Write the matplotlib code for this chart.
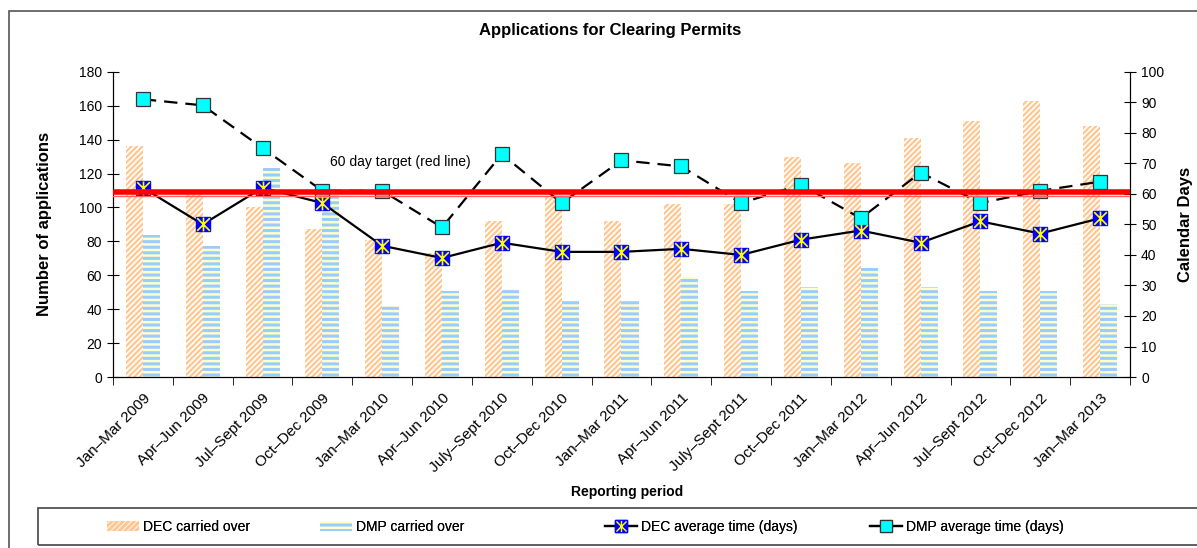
import matplotlib
matplotlib.use("Agg")
import matplotlib.pyplot as plt
import numpy as np
from matplotlib.path import Path
from matplotlib.lines import Line2D
from matplotlib.patches import Patch, Rectangle
from matplotlib.legend_handler import HandlerTuple

periods = ["Jan\u2013Mar 2009", "Apr\u2013Jun 2009", "Jul\u2013Sept 2009", "Oct\u2013Dec 2009",
           "Jan\u2013Mar 2010", "Apr\u2013Jun 2010", "July\u2013Sept 2010", "Oct\u2013Dec 2010",
           "Jan\u2013Mar 2011", "Apr\u2013Jun 2011", "July\u2013Sept 2011", "Oct\u2013Dec 2011",
           "Jan\u2013Mar 2012", "Apr\u2013Jun 2012", "Jul\u2013Sept 2012", "Oct\u2013Dec 2012",
           "Jan\u2013Mar 2013"]
dec_carried = [136, 110, 100, 87, 81, 73, 92, 107, 92, 102, 102, 130, 126, 141, 151, 163, 148]
dmp_carried = [84, 77, 123, 109, 42, 51, 52, 45, 45, 59, 51, 53, 64, 53, 51, 51, 43]
dec_days = [62, 50, 62, 57, 43, 39, 44, 41, 41, 42, 40, 45, 48, 44, 51, 47, 52]
dmp_days = [91, 89, 75, 61, 61, 49, 73, 57, 71, 69, 57, 63, 52, 67, 57, 61, 64]
target_days = 60

plt.rcParams['font.family'] = ['Liberation Sans', 'DejaVu Sans']

orange = '#FFC690'
blue = '#99CCFF'
yellow = '#FFFFCC'

# yellow asterisk drawn over the blue squares
star = Path([(-1, -1), (1, 1), (-1, 1), (1, -1), (0, -1.1), (0, 1.1)],
            [Path.MOVETO, Path.LINETO] * 3)

fig = plt.figure(figsize=(11.97, 5.48), dpi=100)
ax = fig.add_axes([0.0944, 0.312, 0.8496, 0.557])
ax2 = ax.twinx()

x = np.arange(len(periods))
w = 0.285
plt.rcParams['hatch.linewidth'] = 1.6
ax.bar(x - w / 2, dec_carried, w, facecolor='white', edgecolor=orange, hatch='//////', linewidth=0)
h1 = Patch(facecolor='white', edgecolor=orange, hatch='//////', linewidth=0)
plt.rcParams['hatch.linewidth'] = 2.2
ax.bar(x + w / 2, dmp_carried, w, facecolor=yellow, edgecolor=blue, hatch='---', linewidth=0)
h2 = Patch(facecolor=yellow, edgecolor=blue, hatch='---', linewidth=0)

ax2.plot(x, dec_days, color='black', lw=1.6, marker='s', ms=10, mfc='#0000FF', mec='#0000FF', zorder=3)
ax2.plot(x, dec_days, ls='none', marker=star, ms=10, mec='#FFFF00', mew=1.2, zorder=4)
ax2.plot(x, dmp_days, color='black', lw=1.6, ls=(0, (6, 3.6)), marker='s', ms=10,
         mfc='#00FFFF', mec='#333333', mew=0.9, zorder=3)
ax2.axhline(target_days + 0.6, color='#FF0000', lw=4, zorder=6)
ax2.axhline(target_days - 0.6, color='#FF6060', lw=1, zorder=6)
ax2.text(3.13, 70.5, "60 day target (red line)", fontsize=10, va='center', ha='left')

ax.set_xlim(-0.5, len(periods) - 0.5)
ax.set_ylim(0, 180)
ax2.set_ylim(0, 100)
ax.set_yticks(np.arange(0, 181, 20))
ax2.set_yticks(np.arange(0, 101, 10))
ax.set_xticks(x)
ax.set_xticklabels(periods, rotation=45, ha='right', rotation_mode='anchor', fontsize=11)
ax.set_xticks(np.arange(-0.5, len(periods), 1), minor=True)
ax.tick_params(axis='x', which='major', length=0, pad=10)
ax.tick_params(axis='x', which='minor', length=6, direction='out')
ax.tick_params(axis='y', direction='inout', length=9, labelsize=10)
ax2.tick_params(axis='y', direction='inout', length=9, labelsize=10)
for a in (ax, ax2):
    a.spines['top'].set_visible(False)

ax.set_ylabel("Number of applications", fontsize=12, fontweight='bold')
ax.yaxis.set_label_coords(-0.06, 0.5)
ax2.set_ylabel("Calendar Days", fontsize=12, fontweight='bold')
ax2.yaxis.set_label_coords(1.047, 0.5)
ax.set_xlabel("Reporting period", fontsize=10, fontweight='bold')
ax.xaxis.set_label_coords(0.506, -0.355)
fig.text(610 / 1197, 0.945, "Applications for Clearing Permits", fontsize=12, fontweight='bold',
         ha='center', va='center')

# outer chart border and legend frame
fig.add_artist(Rectangle((9 / 1197, -0.05), 1.1, 1.05 - 11 / 548, transform=fig.transFigure,
                         fill=False, edgecolor='#555555', lw=1.2))
fig.add_artist(Rectangle((38 / 1197, 3 / 548), 1.1, 37 / 548, transform=fig.transFigure,
                         fill=False, edgecolor='#444444', lw=1.2))

h3 = (Line2D([], [], color='black', lw=1.6, marker='s', ms=8, mfc='#0000FF', mec='#0000FF'),
      Line2D([], [], ls='none', marker=star, ms=8, mec='#FFFF00', mew=1))
h4 = Line2D([], [], color='black', lw=1.6, marker='s', ms=8, mfc='#00FFFF', mec='#333333', mew=0.9)
handles = [h1, h2, h3, h4]
names = ["DEC carried over", "DMP carried over", "DEC average time (days)", "DMP average time (days)"]
starts = [107, 320, 605, 870]
for hd, nm, sx in zip(handles, names, starts):
    leg = fig.legend([hd], [nm], loc='center left', bbox_to_anchor=(sx / 1197, 21 / 548),
                     frameon=False, fontsize=10, handlelength=2.3, handletextpad=0.3,
                     borderpad=0, borderaxespad=0,
                     handler_map={tuple: HandlerTuple(ndivide=1)})
    fig.add_artist(leg)

fig.savefig("out.png", dpi=100)
